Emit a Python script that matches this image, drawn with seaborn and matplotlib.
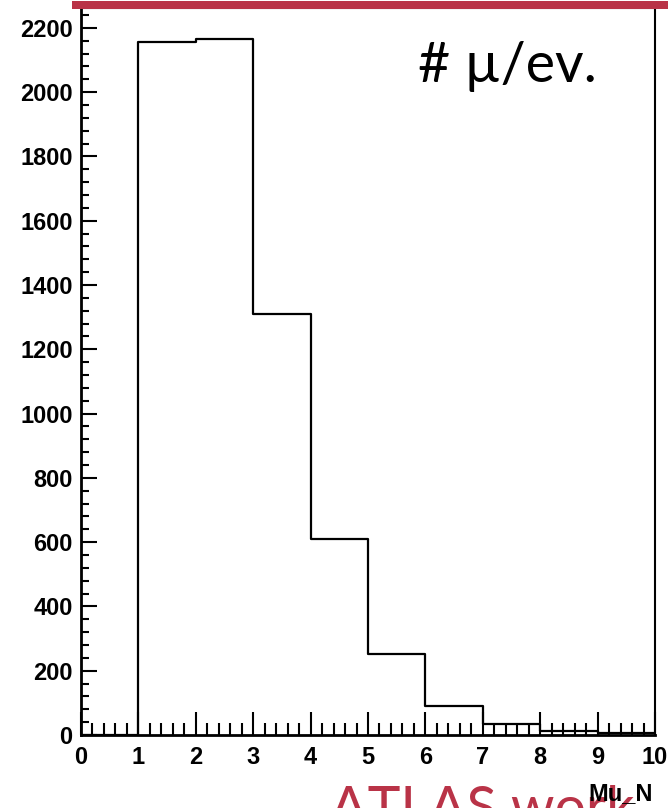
import matplotlib
matplotlib.use("Agg")
import matplotlib.pyplot as plt
import seaborn as sns
import pandas as pd
from matplotlib.patches import Rectangle
from matplotlib.ticker import MultipleLocator, FixedLocator

# ---- data ----
bin_edges = [0, 1, 2, 3, 4, 5, 6, 7, 8, 9, 10]
bin_centers = [0.5, 1.5, 2.5, 3.5, 4.5, 5.5, 6.5, 7.5, 8.5, 9.5]
counts = [0, 2155, 2165, 1310, 610, 252, 90, 34, 12, 5]
y_ticks = [0, 200, 400, 600, 800, 1000, 1200, 1400, 1600, 1800, 2000, 2200]
x_ticks = [0, 1, 2, 3, 4, 5, 6, 7, 8, 9, 10]
x_label = "Mu_N"
annot_text = "# \u00b5/ev."
slide_text = "ATLAS work"

df = pd.DataFrame({"Mu_N": bin_centers, "events": counts})

sns.set_style("ticks")
plt.rcParams["font.family"] = ["Liberation Sans", "DejaVu Sans"]
plt.rcParams["text.color"] = "black"
plt.rcParams["xtick.color"] = "black"
plt.rcParams["ytick.color"] = "black"

W, H = 668, 808
fig = plt.figure(figsize=(W / 100, H / 100), dpi=100)
fig.patch.set_facecolor("white")
ax = fig.add_axes([81 / W, 73 / H, (655 - 81) / W, (735 - 8) / H])

sns.histplot(data=df, x="Mu_N", weights="events", bins=bin_edges,
             element="step", fill=False, color="black", linewidth=1.6, ax=ax)

ax.set_xlim(0, 10)
ax.set_ylim(0, 2262)
ax.set_xlabel("")
ax.set_ylabel("")
ax.set_facecolor("white")

ax.xaxis.set_major_locator(FixedLocator(x_ticks))
ax.xaxis.set_minor_locator(MultipleLocator(0.2))
ax.yaxis.set_major_locator(FixedLocator(y_ticks))
ax.yaxis.set_minor_locator(MultipleLocator(40))
ax.set_xticklabels([str(t) for t in x_ticks])
ax.set_yticklabels([str(t) for t in y_ticks])

for s in ["left", "bottom"]:
    ax.spines[s].set_linewidth(2.0)
for s in ["right", "top"]:
    ax.spines[s].set_linewidth(1.5)
for s in ax.spines.values():
    s.set_color("black")

ax.tick_params(axis="y", which="major", direction="in", length=11.5, width=1.5,
               pad=6, labelsize=17, right=False, left=True, colors="black")
ax.tick_params(axis="y", which="minor", direction="in", length=5.8, width=1.5,
               right=False, left=True, colors="black")
ax.tick_params(axis="x", which="major", direction="in", length=16.5, width=1.5,
               pad=8, labelsize=17, top=False, bottom=True, colors="black")
ax.tick_params(axis="x", which="minor", direction="in", length=8.6, width=1.5,
               top=False, bottom=True, colors="black")
for lab in ax.get_xticklabels() + ax.get_yticklabels():
    lab.set_fontweight("bold")

# slide decorations
fig.text(330 / W, 1 - 826 / H, slide_text, color="#B93347", fontsize=40,
         family=["Lato", "DejaVu Sans"], ha="left", va="baseline")
fig.text(653 / W, 1 - 800 / H, x_label, color="black", fontsize=17,
         fontweight="bold", ha="right", va="baseline")
fig.text(418 / W, 1 - 82 / H, annot_text, color="black", fontsize=40,
         family=["Lato", "DejaVu Sans"], ha="left", va="baseline")
fig.add_artist(Rectangle((72 / W, 1 - 9 / H), 1 - 72 / W, 8 / H,
                         transform=fig.transFigure, facecolor="#B93347",
                         edgecolor="none", zorder=10))

fig.savefig("out.png", dpi=100)
